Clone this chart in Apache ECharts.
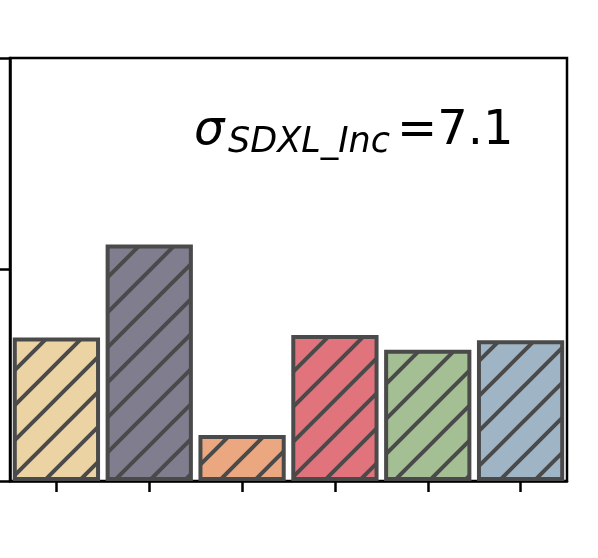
<!DOCTYPE html>
<html>
<head>
<meta charset="utf-8">
<script src="https://cdn.jsdelivr.net/npm/echarts@6/dist/echarts.min.js"></script>
<style>
  html, body { margin: 0; padding: 0; background: #fff; }
  #chart { width: 598px; height: 558px; }
</style>
</head>
<body>
<div id="chart"></div>
<script>
// categories are not labelled in the crop
const categories = ['A', 'B', 'C', 'D', 'E', 'F'];
const values = [16.95, 27.95, 5.45, 17.25, 15.5, 16.65];
const barColors = ['#EBD3A4', '#7F7D8E', '#EBA880', '#E0737C', '#A3BF93', '#9FB5C6'];
const yTicks = [0, 25, 50];

const edgeColor = '#4a4a4a';

// hatch '/' pattern tile
function hatch(bg) {
  const s = 35;
  const c = document.createElement('canvas');
  c.width = s; c.height = s;
  const ctx = c.getContext('2d');
  ctx.fillStyle = bg;
  ctx.fillRect(0, 0, s, s);
  ctx.strokeStyle = edgeColor;
  ctx.lineWidth = 4;
  ctx.beginPath();
  ctx.moveTo(-3, s + 3); ctx.lineTo(s + 3, -3);
  ctx.moveTo(-3, 3); ctx.lineTo(3, -3);
  ctx.moveTo(s - 3, s + 3); ctx.lineTo(s + 3, s - 3);
  ctx.stroke();
  return { image: c, repeat: 'repeat' };
}

const chart = echarts.init(document.getElementById('chart'));
chart.setOption({
  animation: false,
  grid: {
    left: 10,
    right: 31,
    top: 58,
    bottom: 77,
    show: true,
    borderColor: '#000',
    borderWidth: 2.5
  },
  xAxis: {
    type: 'category',
    data: categories,
    axisLine: { lineStyle: { color: '#000', width: 2.5 } },
    axisTick: { show: true, interval: 0, alignWithLabel: true, length: 11, lineStyle: { color: '#000', width: 2.5 } },
    axisLabel: { show: true, interval: 0, color: 'rgba(0,0,0,0)' }
  },
  yAxis: {
    type: 'value',
    min: yTicks[0],
    max: yTicks[yTicks.length - 1],
    interval: yTicks[1] - yTicks[0],
    axisLine: { show: true, lineStyle: { color: '#000', width: 2.5 } },
    axisTick: { show: true, length: 11, lineStyle: { color: '#000', width: 2.5 } },
    axisLabel: { show: false },
    splitLine: { show: false }
  },
  graphic: [
    {
      type: 'text', left: 194, top: 108,
      style: { text: 'σ', font: 'italic 48px "DejaVu Sans"', fill: '#000' }
    },
    {
      type: 'text', left: 228, top: 125,
      style: { text: 'SDXL_Inc', font: 'italic 35px "DejaVu Sans"', fill: '#000' }
    },
    {
      type: 'text', left: 397, top: 108,
      style: { text: '=7.1', font: '48px "DejaVu Sans"', fill: '#000' }
    }
  ],
  series: [
    {
      type: 'bar',
      barWidth: '94%',
      data: values.map((v, i) => ({
        value: v,
        itemStyle: { color: hatch(barColors[i]) }
      })),
      itemStyle: { borderColor: edgeColor, borderWidth: 4 }
    }
  ]
});
</script>
</body>
</html>
